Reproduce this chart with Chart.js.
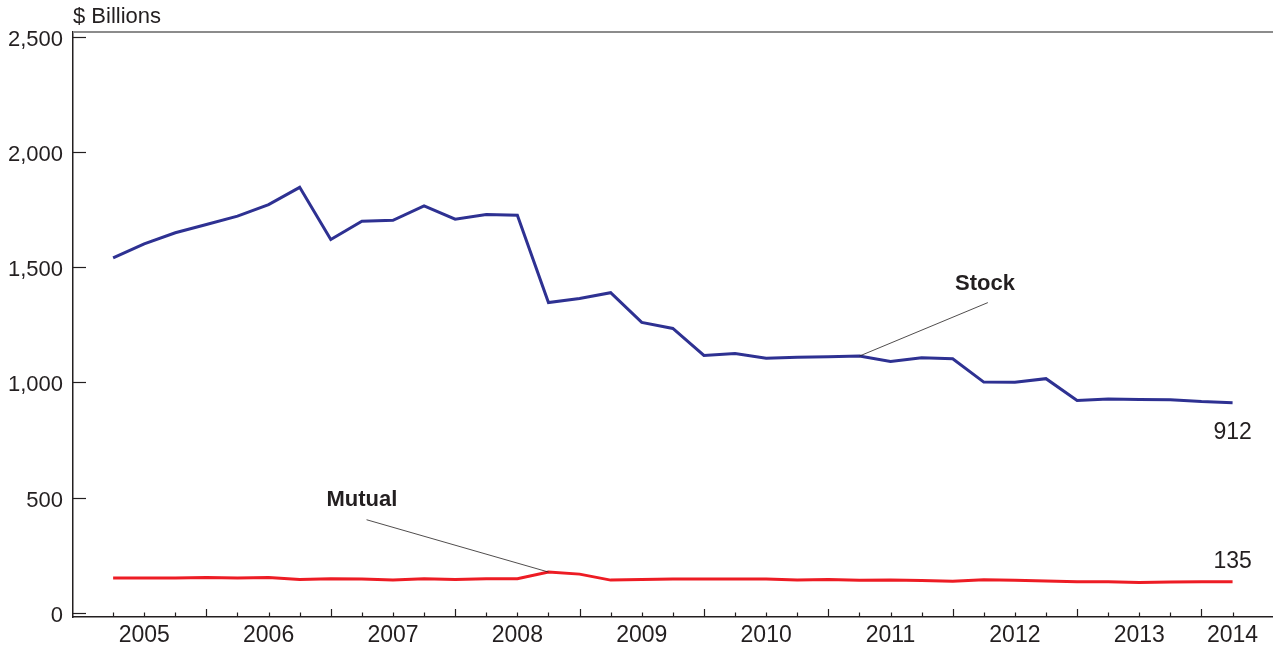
<!DOCTYPE html>
<html>
<head>
<meta charset="utf-8">
<title>Stock and Mutual, $ Billions</title>
<script src="https://cdn.jsdelivr.net/npm/chart.js@4.4.1/dist/chart.umd.min.js"></script>
<style>
	html, body { margin: 0; padding: 0; background: #fff; }
	#chartWrap { width: 1273px; height: 649px; }
</style>
</head>
<body>
<div id="chartWrap"><canvas id="line_chart_billions" width="1273" height="649"></canvas></div>
<script>
"use strict";

var quarterLabels = [
	'2005 Q1', '2005 Q2', '2005 Q3', '2005 Q4',
	'2006 Q1', '2006 Q2', '2006 Q3', '2006 Q4',
	'2007 Q1', '2007 Q2', '2007 Q3', '2007 Q4',
	'2008 Q1', '2008 Q2', '2008 Q3', '2008 Q4',
	'2009 Q1', '2009 Q2', '2009 Q3', '2009 Q4',
	'2010 Q1', '2010 Q2', '2010 Q3', '2010 Q4',
	'2011 Q1', '2011 Q2', '2011 Q3', '2011 Q4',
	'2012 Q1', '2012 Q2', '2012 Q3', '2012 Q4',
	'2013 Q1', '2013 Q2', '2013 Q3', '2013 Q4',
	'2014 Q1'
];
var yearLabels = ['2005', '2006', '2007', '2008', '2009', '2010', '2011', '2012', '2013', '2014'];

var stockValues = [
	1540, 1601, 1649, 1685,
	1721, 1771, 1846, 1620,
	1699, 1703, 1766, 1708,
	1728, 1725, 1346, 1364,
	1389, 1260, 1234, 1117,
	1125, 1105, 1109, 1111,
	1114, 1091, 1107, 1102,
	1001, 1000, 1016, 921,
	928, 926, 925, 917,
	912
];
var mutualValues = [
	151, 151, 151, 153,
	151, 153, 145, 148,
	147, 142, 148, 145,
	148, 148, 177, 168,
	142, 145, 147, 147,
	147, 147, 142, 145,
	141, 142, 140, 137,
	144, 141, 138, 135,
	135, 132, 134, 135,
	135
];
var yTickValues = [0, 500, 1000, 1500, 2000, 2500];

var TEXT_COLOR = '#231f20';
var STOCK_COLOR = '#2e3192';
var MUTUAL_COLOR = '#ed1c24';

Chart.defaults.font.family = '"Liberation Sans", Arial, Helvetica, sans-serif';
Chart.defaults.color = TEXT_COLOR;

// year label sits on the Q2 point, or on the last quarter of a short year
function getYearTickIndex() {
	var list = [];
	for (var k = 0; k < yearLabels.length; k++) {
		var idx = quarterLabels.indexOf(yearLabels[k] + ' Q2');
		if (idx < 0) {
			for (var j = 0; j < quarterLabels.length; j++) {
				if (quarterLabels[j].substr(0, 4) == yearLabels[k]) {
					idx = j;
				}
			}
		}
		if (idx >= 0) {
			list.push(idx);
		}
	}
	return list;
}

function toPoints(values) {
	return values.map(function (v, i) {
		return {x: i, y: v};
	});
}

var frameAndNotesPlugin = {
	id: 'frameAndNotes',
	afterDatasetsDraw: function (chart) {
		var ctx = chart.ctx;
		var area = chart.chartArea;
		var xs = chart.scales.x;
		var ys = chart.scales.y;

		ctx.save();

		// top frame line
		ctx.strokeStyle = '#8c8c8c';
		ctx.lineWidth = 2;
		ctx.beginPath();
		ctx.moveTo(area.left, area.top);
		ctx.lineTo(area.right, area.top);
		ctx.stroke();

		// y tick marks pointing inward
		ctx.strokeStyle = TEXT_COLOR;
		ctx.lineWidth = 1.2;
		yTickValues.forEach(function (v) {
			var py = Math.round(ys.getPixelForValue(v)) + 0.5;
			ctx.beginPath();
			ctx.moveTo(area.left, py);
			ctx.lineTo(area.left + 13, py);
			ctx.stroke();
		});

		// quarterly ticks, longer at year end
		quarterLabels.forEach(function (q, i) {
			var px = Math.round(xs.getPixelForValue(i)) + 0.5;
			var len = q.substr(5) == 'Q4' ? 8 : 4.5;
			ctx.beginPath();
			ctx.moveTo(px, area.bottom);
			ctx.lineTo(px, area.bottom - len);
			ctx.stroke();
		});

		// leader lines
		ctx.lineWidth = 0.8;
		ctx.strokeStyle = TEXT_COLOR;
		ctx.beginPath();
		ctx.moveTo(xs.getPixelForValue(28.13), ys.getPixelForValue(1346));
		ctx.lineTo(xs.getPixelForValue(24), ys.getPixelForValue(stockValues[24]));
		ctx.stroke();
		ctx.beginPath();
		ctx.moveTo(xs.getPixelForValue(8.15), ys.getPixelForValue(404));
		ctx.lineTo(xs.getPixelForValue(14), ys.getPixelForValue(mutualValues[14]));
		ctx.stroke();

		ctx.fillStyle = TEXT_COLOR;
		ctx.textAlign = 'center';
		ctx.textBaseline = 'middle';
		ctx.font = 'bold 22px "Liberation Sans", Arial, sans-serif';
		ctx.fillText('Stock', xs.getPixelForValue(28.04), ys.getPixelForValue(1429));
		ctx.fillText('Mutual', xs.getPixelForValue(8.0), ys.getPixelForValue(488));

		// end values
		var last = stockValues.length - 1;
		ctx.font = '23px "Liberation Sans", Arial, sans-serif';
		ctx.fillText(String(stockValues[last]), xs.getPixelForValue(last), ys.getPixelForValue(stockValues[last]) + 30);
		ctx.fillText(String(mutualValues[last]), xs.getPixelForValue(last), ys.getPixelForValue(mutualValues[last]) - 20);

		// unit title
		ctx.textAlign = 'left';
		ctx.font = '22px "Liberation Sans", Arial, sans-serif';
		ctx.fillText('$ Billions', area.left, 17);

		ctx.restore();
	}
};

var billionsChart = new Chart('line_chart_billions', {
	type: 'line',
	data: {
		datasets: [{
			label: 'Stock',
			data: toPoints(stockValues),
			borderColor: STOCK_COLOR,
			borderWidth: 3,
			pointRadius: 0,
			tension: 0
		}, {
			label: 'Mutual',
			data: toPoints(mutualValues),
			borderColor: MUTUAL_COLOR,
			borderWidth: 3,
			pointRadius: 0,
			tension: 0
		}]
	},
	options: {
		responsive: false,
		animation: false,
		devicePixelRatio: 1,
		layout: {
			padding: {top: 32, right: 0, left: 0, bottom: 0}
		},
		plugins: {
			legend: {display: false},
			tooltip: {enabled: false}
		},
		scales: {
			x: {
				type: 'linear',
				min: -1.29,
				max: 37.3,
				afterBuildTicks: function (scale) {
					scale.ticks = getYearTickIndex().map(function (i) {
						return {value: i};
					});
				},
				afterFit: function (scale) {
					scale.height = 32;
				},
				grid: {display: false, drawTicks: false, tickLength: 0},
				border: {display: true, color: TEXT_COLOR, width: 1.5},
				ticks: {
					autoSkip: false,
					maxRotation: 0,
					padding: 5,
					color: TEXT_COLOR,
					font: {size: 23},
					callback: function (value) {
						return quarterLabels[value].substr(0, 4);
					}
				}
			},
			y: {
				type: 'linear',
				min: -18,
				max: 2520,
				afterBuildTicks: function (scale) {
					scale.ticks = yTickValues.map(function (v) {
						return {value: v};
					});
				},
				afterFit: function (scale) {
					scale.width = 73;
				},
				grid: {display: false, drawTicks: false, tickLength: 0},
				border: {display: true, color: TEXT_COLOR, width: 1.5},
				ticks: {
					padding: 10,
					labelOffset: 3,
					color: TEXT_COLOR,
					font: {size: 22},
					callback: function (value) {
						return value.toLocaleString('en-US');
					}
				}
			}
		}
	},
	plugins: [frameAndNotesPlugin]
});
</script>
</body>
</html>
